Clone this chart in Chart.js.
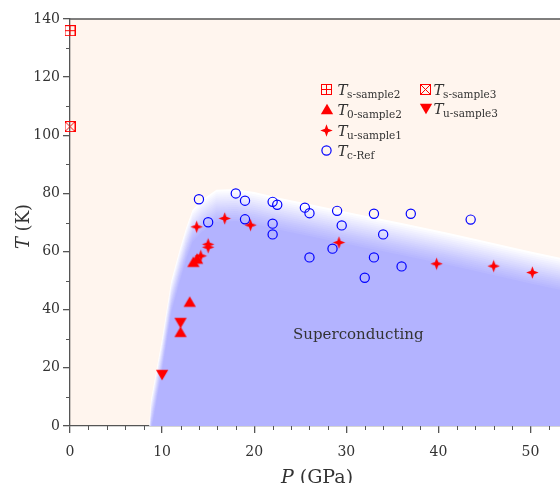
<!DOCTYPE html>
<html>
<head>
<meta charset="utf-8">
<script src="https://cdn.jsdelivr.net/npm/chart.js@4.4.1/dist/chart.umd.min.js"></script>
<style>
  html, body { margin: 0; padding: 0; background: #ffffff; }
</style>
</head>
<body>
<canvas id="phaseChart" width="560" height="483"></canvas>
<script>
// superconducting dome boundary (P in GPa, T in K)
var boundaryP = [8.3, 8.6, 8.8, 10, 11, 11.9, 12.6, 13.3, 14.3, 15.9, 18, 20, 22.8, 27, 31, 36, 41, 44.5, 50, 56];
var boundaryT = [-10, 0, 9, 30, 50, 60.5, 68, 74.3, 77.7, 81.3, 81.5, 80.5, 78.4, 75.7, 73, 69.8, 66.5, 64, 60, 56];

// Tc-Ref (open circles)
var tcRefP = [14, 18, 19, 22, 22.5, 25.5, 26, 29, 29.5, 15, 19, 22, 22, 26, 28.5, 33, 37, 43.5, 34, 33, 36, 32];
var tcRefT = [78, 80, 77.5, 77.1, 76.1, 75.1, 73.2, 74, 69, 70.1, 71.1, 69.6, 65.9, 58, 61, 73, 73, 71, 65.9, 58, 54.9, 51];

// Tu-sample1 (stars)
var tuS1P = [13.75, 14.2, 15, 15, 16.8, 19.6, 29.2, 39.8, 46, 50.2];
var tuS1T = [68.5, 58.5, 62.5, 61.5, 71.4, 69.1, 63.1, 55.8, 55, 52.8];

// T0-sample2 (up triangles)
var t0S2P = [12, 13, 13.4, 13.8];
var t0S2T = [32.4, 42.8, 56.5, 57.6];

// Tu-sample3 (down triangles)
var tuS3P = [10, 12];
var tuS3T = [17.5, 35.4];

// Ts-sample2 / Ts-sample3 (boxed markers)
var tsS2P = [0];
var tsS2T = [136];
var tsS3P = [0];
var tsS3T = [103];

var xTicks = [0, 10, 20, 30, 40, 50];
var yTicks = [0, 20, 40, 60, 80, 100, 120, 140];
var xMinorTicks = [2, 4, 6, 8, 12, 14, 16, 18, 22, 24, 26, 28, 32, 34, 36, 38, 42, 44, 46, 48, 52];
var yMinorTicks = [10, 30, 50, 70, 90, 110, 130];

var FONT = "'DejaVu Serif'";
var AXIS = "#555555";
var TEXT = "#333333";
var RED = "#ff0000";
var BLUE = "#0000ff";
var SC_BLUE = [179, 179, 255];

function toXY(xs, ys) {
    return xs.map(function (x, i) { return { x: x, y: ys[i] }; });
}

function makeMarker(size, draw) {
    var c = document.createElement("canvas");
    c.width = size;
    c.height = size;
    draw(c.getContext("2d"), size / 2);
    return c;
}

var upTri = makeMarker(14, function (g, c) {
    g.fillStyle = RED;
    g.beginPath();
    g.moveTo(c, c - 5.35);
    g.lineTo(c + 6.15, c + 5.35);
    g.lineTo(c - 6.15, c + 5.35);
    g.closePath();
    g.fill();
});
var downTri = makeMarker(14, function (g, c) {
    g.fillStyle = RED;
    g.beginPath();
    g.moveTo(c, c + 5.35);
    g.lineTo(c + 6.15, c - 5.35);
    g.lineTo(c - 6.15, c - 5.35);
    g.closePath();
    g.fill();
});
var star4 = makeMarker(15, function (g, c) {
    g.fillStyle = RED;
    g.beginPath();
    for (var i = 0; i < 8; i++) {
        var a = -Math.PI / 2 + i * Math.PI / 4;
        var r = i % 2 ? 2.3 : 6.2;
        g.lineTo(c + r * Math.cos(a), c + r * Math.sin(a));
    }
    g.closePath();
    g.fill();
});
var boxPlus = makeMarker(11, function (g, c) {
    g.strokeStyle = RED;
    g.lineWidth = 1;
    g.strokeRect(0.5, 0.5, 10, 10);
    g.beginPath();
    g.moveTo(5.5, 0.5); g.lineTo(5.5, 10.5);
    g.moveTo(0.5, 5.5); g.lineTo(10.5, 5.5);
    g.stroke();
});
var boxCross = makeMarker(11, function (g, c) {
    g.strokeStyle = RED;
    g.lineWidth = 1;
    g.strokeRect(0.5, 0.5, 10, 10);
    g.beginPath();
    g.moveTo(0.5, 0.5); g.lineTo(10.5, 10.5);
    g.moveTo(10.5, 0.5); g.lineTo(0.5, 10.5);
    g.stroke();
});

// draws the shaded superconducting region with a soft vertical edge
function drawRegion(chart, meta) {
    var ctx = chart.ctx;
    var area = chart.chartArea;
    var pts = meta.data;
    var base = chart.scales.y.getPixelForValue(-10) + 40;

    function trace(dy) {
        ctx.beginPath();
        ctx.moveTo(pts[0].x, pts[0].y + dy);
        for (var i = 1; i < pts.length; i++) ctx.lineTo(pts[i].x, pts[i].y + dy);
        ctx.lineTo(pts[pts.length - 1].x, base);
        ctx.lineTo(pts[0].x, base);
        ctx.closePath();
    }

    ctx.save();
    ctx.beginPath();
    ctx.rect(area.left, area.top, area.right - area.left, area.bottom - area.top);
    ctx.clip();
    trace(0);
    ctx.fillStyle = "#ffffff";
    ctx.fill();
    ctx.clip();
    var n = 16, d0 = 2, depth = 30;
    for (var j = 0; j < n; j++) {
        trace(d0 + depth * j / (n - 1));
        ctx.fillStyle = "rgba(" + SC_BLUE.join(",") + "," + (1 / (n - j)) + ")";
        ctx.fill();
    }
    ctx.restore();
}

var legendItems = [
    { marker: boxPlus, x: 326.5, y: 89, dx: 11, sub: "s-sample2" },
    { marker: boxCross, x: 425.5, y: 89, dx: 8, sub: "s-sample3" },
    { marker: upTri, x: 326.5, y: 109, dx: 11, sub: "0-sample2" },
    { marker: downTri, x: 425.5, y: 108.5, dx: 8, sub: "u-sample3" },
    { marker: star4, x: 326.5, y: 130, dx: 11, sub: "u-sample1" },
    { marker: "circle", x: 326.5, y: 150.5, dx: 11, sub: "c-Ref" }
];

var phasePlugin = {
    id: "phase",
    beforeDraw: function (chart) {
        var ctx = chart.ctx, a = chart.chartArea;
        ctx.save();
        ctx.fillStyle = "#ffffff";
        ctx.fillRect(0, 0, chart.width, chart.height);
        ctx.fillStyle = "#fff5ee";
        ctx.fillRect(a.left, a.top, a.right - a.left, a.bottom - a.top);
        ctx.restore();
    },
    afterDatasetDraw: function (chart, args) {
        if (args.index === 0) drawRegion(chart, args.meta);
    },
    afterDraw: function (chart) {
        var ctx = chart.ctx, a = chart.chartArea;
        var xs = chart.scales.x, ys = chart.scales.y;
        ctx.save();

        // top frame line
        ctx.strokeStyle = AXIS;
        ctx.lineWidth = 1.3;
        ctx.beginPath();
        ctx.moveTo(a.left, a.top);
        ctx.lineTo(a.right, a.top);
        ctx.stroke();

        // minor ticks
        ctx.lineWidth = 1;
        ctx.beginPath();
        xMinorTicks.forEach(function (v) {
            var px = Math.round(xs.getPixelForValue(v)) + 0.5;
            ctx.moveTo(px, a.bottom);
            ctx.lineTo(px, a.bottom + 4);
        });
        yMinorTicks.forEach(function (v) {
            var py = Math.round(ys.getPixelForValue(v)) + 0.5;
            ctx.moveTo(a.left, py);
            ctx.lineTo(a.left - 4, py);
        });
        ctx.stroke();

        // region label
        ctx.fillStyle = TEXT;
        ctx.font = "15px " + FONT;
        ctx.textAlign = "center";
        ctx.textBaseline = "alphabetic";
        ctx.fillText("Superconducting", xs.getPixelForValue(31.3), ys.getPixelForValue(29.8));

        // legend
        legendItems.forEach(function (it) {
            if (it.marker === "circle") {
                ctx.strokeStyle = BLUE;
                ctx.lineWidth = 1.2;
                ctx.beginPath();
                ctx.arc(it.x, it.y, 4.6, 0, Math.PI * 2);
                ctx.stroke();
            } else {
                ctx.drawImage(it.marker, Math.round(it.x - it.marker.width / 2), Math.round(it.y - it.marker.height / 2));
            }
            ctx.fillStyle = TEXT;
            ctx.textAlign = "left";
            ctx.font = "italic 15px " + FONT;
            ctx.fillText("T", it.x + it.dx, it.y + 5.5);
            ctx.font = "10.5px " + FONT;
            ctx.fillText(it.sub, it.x + it.dx + 9.5, it.y + 8.5);
        });

        // axis titles
        function mixed(parts, cx, cy) {
            var total = 0;
            parts.forEach(function (p) { ctx.font = p[1]; total += ctx.measureText(p[0]).width; });
            var x = cx - total / 2;
            ctx.textAlign = "left";
            parts.forEach(function (p) {
                ctx.font = p[1];
                ctx.fillText(p[0], x, cy);
                x += ctx.measureText(p[0]).width;
            });
        }
        ctx.fillStyle = TEXT;
        mixed([["P", "italic 19px " + FONT], [" (GPa)", "19px " + FONT]], (a.left + a.right) / 2 + 2, 483);
        ctx.save();
        ctx.translate(29, (a.top + a.bottom) / 2 + 4);
        ctx.rotate(-Math.PI / 2);
        mixed([["T", "italic 18px " + FONT], [" (K)", "18px " + FONT]], 0, 0);
        ctx.restore();

        ctx.restore();
    }
};

var ctx = document.getElementById("phaseChart").getContext("2d");

new Chart(ctx, {
    type: "scatter",
    data: {
        datasets: [{
            label: "region",
            data: toXY(boundaryP, boundaryT),
            pointRadius: 0,
            showLine: false,
            order: 10
        }, {
            label: "Tc-Ref",
            data: toXY(tcRefP, tcRefT),
            pointStyle: "circle",
            pointRadius: 4.6,
            borderColor: BLUE,
            backgroundColor: "rgba(0,0,0,0)",
            borderWidth: 1.2,
            clip: false,
            order: 5
        }, {
            label: "Tu-sample1",
            data: toXY(tuS1P, tuS1T),
            pointStyle: star4,
            clip: false,
            order: 4
        }, {
            label: "T0-sample2",
            data: toXY(t0S2P, t0S2T),
            pointStyle: upTri,
            clip: false,
            order: 3
        }, {
            label: "Tu-sample3",
            data: toXY(tuS3P, tuS3T),
            pointStyle: downTri,
            clip: false,
            order: 3
        }, {
            label: "Ts-sample2",
            data: toXY(tsS2P, tsS2T),
            pointStyle: boxPlus,
            clip: false,
            order: 2
        }, {
            label: "Ts-sample3",
            data: toXY(tsS3P, tsS3T),
            pointStyle: boxCross,
            clip: false,
            order: 2
        }]
    },
    options: {
        responsive: false,
        animation: false,
        layout: { autoPadding: false, padding: { top: 19, right: 0, left: 0, bottom: 0 } },
        plugins: {
            legend: { display: false },
            tooltip: { enabled: false }
        },
        scales: {
            x: {
                type: "linear",
                min: 0,
                max: 53.2,
                afterBuildTicks: function (s) { s.ticks = xTicks.map(function (v) { return { value: v }; }); },
                afterFit: function (s) { s.height = 57; s.paddingLeft = 0; s.paddingRight = 0; },
                border: { display: true, color: AXIS, width: 1.3 },
                grid: { drawOnChartArea: false, drawTicks: true, tickLength: 7, color: AXIS, lineWidth: 1.3 },
                ticks: { font: { family: "DejaVu Serif", size: 14 }, color: TEXT, padding: 11, maxRotation: 0, autoSkip: false }
            },
            y: {
                type: "linear",
                min: 0,
                max: 140,
                afterBuildTicks: function (s) { s.ticks = yTicks.map(function (v) { return { value: v }; }); },
                afterFit: function (s) { s.width = 70; s.paddingTop = 0; s.paddingBottom = 0; },
                border: { display: true, color: AXIS, width: 1.3 },
                grid: { drawOnChartArea: false, drawTicks: true, tickLength: 7, color: AXIS, lineWidth: 1.3 },
                ticks: { font: { family: "DejaVu Serif", size: 14 }, color: TEXT, padding: 3, autoSkip: false }
            }
        }
    },
    plugins: [phasePlugin]
});
</script>
</body>
</html>
